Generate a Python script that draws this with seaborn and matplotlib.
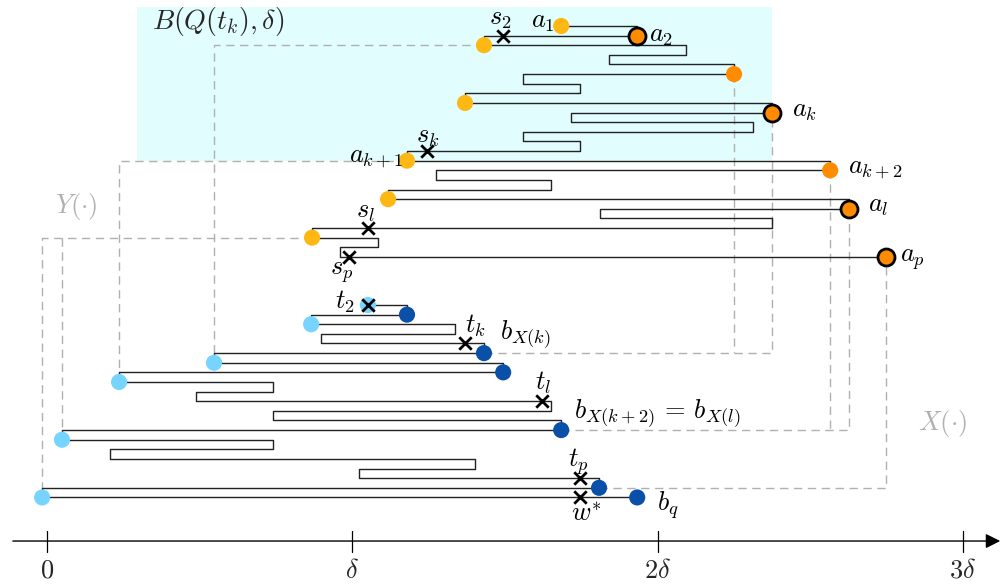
import numpy as np
import pandas as pd
import matplotlib
matplotlib.use("Agg")
import matplotlib.pyplot as plt
import seaborn as sns

# turning points of the two snake paths (x in units of delta), one row per step
path1_x = [1.684, 1.933, 1.431, 2.093, 1.841, 2.250, 1.559, 1.746, 1.369, 2.375,
           1.716, 2.312, 1.559, 1.746, 1.179, 2.565, 1.274, 1.651, 1.117, 2.627,
           1.811, 2.375, 0.868, 1.084, 0.960, 2.748]
path1_row0 = 0
path2_x = [1.051, 1.179, 0.865, 1.336, 0.897, 1.431, 0.547, 1.494, 0.236, 0.740,
           0.488, 1.651, 0.740, 1.684, 0.049, 0.740, 0.206, 1.402, 1.022, 1.808,
           -0.016, 1.933]
path2_row0 = 29

# points
yellow_x = [1.684, 1.431, 1.369, 1.179, 1.117, 0.868]
yellow_r = [0, 2, 8, 14, 18, 22]
orange_x = [2.250, 2.565]
orange_r = [5, 15]
orange_edge_x = [1.933, 2.375, 2.627, 2.748]
orange_edge_r = [1, 9, 19, 24]
light_x = [1.051, 0.865, 0.547, 0.236, 0.049, -0.016]
light_r = [29, 31, 35, 37, 43, 49]
dark_x = [1.179, 1.431, 1.494, 1.684, 1.808, 1.933]
dark_r = [30, 34, 36, 42, 48, 49]

# crosses: s2, s_k, s_l, s_p, t2, t_k, t_l, t_p, w*
cross_x = [1.494, 1.245, 1.051, 0.989, 1.051, 1.369, 1.621, 1.746, 1.746]
cross_r = [1, 13, 21, 24, 29, 33, 39, 47, 49]

# dashed guide lines
dash_paths = [
    [(1.431, 2), (0.547, 2), (0.547, 35)],
    [(1.431, 34), (2.375, 34), (2.375, 9)],
    [(2.250, 5), (2.250, 34)],
    [(1.179, 14), (0.236, 14), (0.236, 37)],
    [(0.868, 22), (-0.016, 22), (-0.016, 49)],
    [(0.049, 22), (0.049, 43)],
    [(1.684, 42), (2.627, 42), (2.627, 19)],
    [(2.565, 15), (2.565, 42)],
    [(1.808, 48), (2.748, 48), (2.748, 24)],
]

labels = [
    (r"$s_2$", 1.484, -0.83, "center", "black"),
    (r"$a_1$", 1.625, -0.52, "center", "black"),
    (r"$a_2$", 2.011, 0.93, "center", "black"),
    (r"$a_k$", 2.480, 8.7, "center", "black"),
    (r"$a_{k+2}$", 2.712, 14.8, "center", "black"),
    (r"$a_l$", 2.722, 18.6, "center", "black"),
    (r"$a_p$", 2.833, 24.2, "center", "black"),
    (r"$s_k$", 1.248, 11.4, "center", "black"),
    (r"$a_{k+1}$", 1.078, 13.6, "center", "black"),
    (r"$Y(\cdot)$", 0.095, 18.8, "center", "#b0b0b0"),
    (r"$s_l$", 1.042, 19.2, "center", "black"),
    (r"$s_p$", 0.966, 25.6, "center", "black"),
    (r"$t_2$", 0.976, 28.7, "center", "black"),
    (r"$t_k$", 1.402, 31.2, "center", "black"),
    (r"$b_{X(k)}$", 1.566, 32.1, "center", "black"),
    (r"$t_l$", 1.625, 37.1, "center", "black"),
    (r"$b_{X(k+2)}\,=\,b_{X(l)}$", 1.727, 40.3, "left", "black"),
    (r"$X(\cdot)$", 2.932, 41.3, "center", "#b0b0b0"),
    (r"$t_p$", 1.739, 45.3, "center", "black"),
    (r"$w^{*}$", 1.765, 50.7, "center", "black"),
    (r"$b_q$", 2.034, 49.8, "center", "black"),
]

ticks = [0, 1, 2, 3]
tick_labels = [r"$0$", r"$\delta$", r"$2\delta$", r"$3\delta$"]


def snake(xs, row0):
    px, py = [], []
    for i in range(len(xs) - 1):
        r = row0 + i
        px += [xs[i], xs[i + 1]]
        py += [r, r]
    return pd.DataFrame({"x": px, "y": py})


sns.set_style("white")
plt.rcParams["mathtext.fontset"] = "cm"

fig = plt.figure(figsize=(10.03, 5.85), dpi=100)
ax = fig.add_axes([0, 0, 1, 1])

# ball B(Q(t_k), delta)
ax.add_patch(plt.Rectangle((0.295, -1.98), 2.375 - 0.295, 14.0 + 1.98,
                           facecolor="#e2fdfd", edgecolor="none", zorder=0))
ax.text(0.344, -0.42, r"$B(Q(t_k),\delta)$", fontsize=20, ha="left", va="center")

for dp in dash_paths:
    d = pd.DataFrame(dp, columns=["x", "y"])
    sns.lineplot(data=d, x="x", y="y", sort=False, estimator=None, ax=ax,
                 color="#b0b0b0", lw=1, linestyle=(0, (6, 4)), zorder=1)

for xs, r0 in [(path1_x, path1_row0), (path2_x, path2_row0)]:
    sns.lineplot(data=snake(xs, r0), x="x", y="y", sort=False, estimator=None,
                 ax=ax, color="#222222", lw=1.0, zorder=2)

sns.scatterplot(x=yellow_x, y=yellow_r, color="#fdb813", s=135, edgecolor="none", ax=ax, zorder=3)
sns.scatterplot(x=orange_x, y=orange_r, color="#ff8c00", s=135, edgecolor="none", ax=ax, zorder=3)
sns.scatterplot(x=orange_edge_x, y=orange_edge_r, color="#ff8c00", s=150, edgecolor="black",
                linewidth=2, ax=ax, zorder=3)
sns.scatterplot(x=light_x, y=light_r, color="#77d4ff", s=135, edgecolor="none", ax=ax, zorder=3)
sns.scatterplot(x=dark_x, y=dark_r, color="#0a50a8", s=135, edgecolor="none", ax=ax, zorder=3)
sns.scatterplot(x=cross_x, y=cross_r, marker="x", color="black", s=80, linewidth=2, ax=ax, zorder=4)

for txt, x, y, ha, c in labels:
    ax.text(x, y, txt, fontsize=19, ha=ha, va="center", color=c, zorder=5)

# number line
axis_row = 53.53
ax.annotate("", xy=(3.131, axis_row), xytext=(-0.121, axis_row),
            arrowprops=dict(arrowstyle="-|>", color="black", lw=1, mutation_scale=22))
for t, lab in zip(ticks, tick_labels):
    ax.plot([t, t], [52.5, 54.7], color="black", lw=0.9)
    ax.text(t, 56.6, lab, fontsize=19, ha="center", va="center")

ax.set_xlim(-0.154, 3.131)
ax.set_ylim(58.1, -2.70)
ax.set_axis_off()

fig.savefig("out.png", dpi=100)
